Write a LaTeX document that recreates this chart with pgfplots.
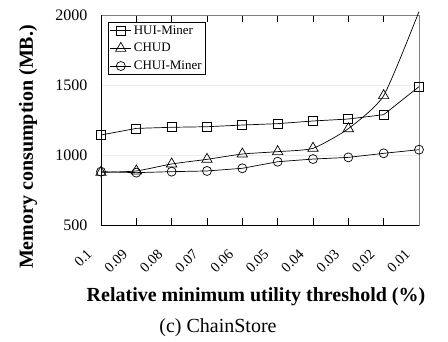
\documentclass[border=0pt]{standalone}
\usepackage{fontspec}
\setmainfont{Liberation Serif}
\usepackage{pgfplots}
\pgfplotsset{compat=1.18}
\begin{document}
\begin{tikzpicture}
\begin{axis}[
  at={(0,0)}, anchor=south west,
  scale only axis, width=318pt, height=210pt,
  xmin=0, xmax=9, ymin=500, ymax=2000,
  xtick={0,...,9},
  xticklabels={0.1,0.09,0.08,0.07,0.06,0.05,0.04,0.03,0.02,0.01},
  ytick={500,1000,1500,2000},
  tick align=inside, major tick length=7pt,
  y tick style={draw=none},
  x tick style={black, line width=0.6pt},
  ymajorgrids, grid style={gray!15, line width=0.6pt},
  axis line style={draw=gray, line width=0.8pt},
  /pgf/number format/assume math mode=true,
  /pgf/number format/1000 sep={},
  yticklabel style={font=\fontsize{16}{18}\selectfont, xshift=-10pt},
  xticklabel style={font=\fontsize{14.5}{17}\selectfont, xshift=-15pt, yshift=-23pt, rotate=45, anchor=north east, inner sep=0pt},
  clip=false,
  legend style={at={(0.022,0.967)}, anchor=north west, draw=black, line width=0.6pt,
    font=\fontsize{13}{15}\selectfont, inner sep=1.5pt, row sep=3.5pt,
    legend cell align=left},
  legend image code/.code={\draw[#1, mark=none] (0cm,0cm) -- (0.75cm,0cm); \draw[#1, only marks] plot coordinates {(0.375cm,0cm)};},
  every axis plot/.append style={black, line width=0.7pt, mark size=4.5pt, mark options={solid, fill=white}},
]
\draw[black, line width=0.8pt] (rel axis cs:0,1) -- (rel axis cs:0,0) -- (rel axis cs:1,0);
\addplot[mark=square] coordinates {(0,1143) (1,1190) (2,1198) (3,1202) (4,1214) (5,1224) (6,1243) (7,1257) (8,1288) (9,1488)};
\addlegendentry{HUI-Miner}
\addplot[mark=triangle, mark size=6pt, smooth, tension=0.35, mark indices={1,2,3,4,5,6,7,8,9}] coordinates {(0,876) (1,886) (2,936) (3,969) (4,1007) (5,1024) (6,1048) (7,1188) (8,1424) (9,2024)};
\addlegendentry{CHUD}
\addplot[mark=o] coordinates {(0,881) (1,874) (2,881) (3,886) (4,905) (5,952) (6,971) (7,983) (8,1012) (9,1038)};
\addlegendentry{CHUI-Miner}
\end{axis}
\node[rotate=90, font=\fontsize{20}{24}\selectfont\bfseries] at (-73pt,78pt) {Memory consumption (MB.)};
\node[font=\fontsize{20}{24}\selectfont\bfseries] at (155pt,-72pt) {Relative minimum utility threshold (\%)};
\node[font=\fontsize{20}{24}\selectfont] at (117pt,-103pt) {(c) ChainStore};
\pgfresetboundingbox
\path[use as bounding box] (-101pt,-116pt) rectangle (347pt,225pt);
\end{tikzpicture}
\end{document}
